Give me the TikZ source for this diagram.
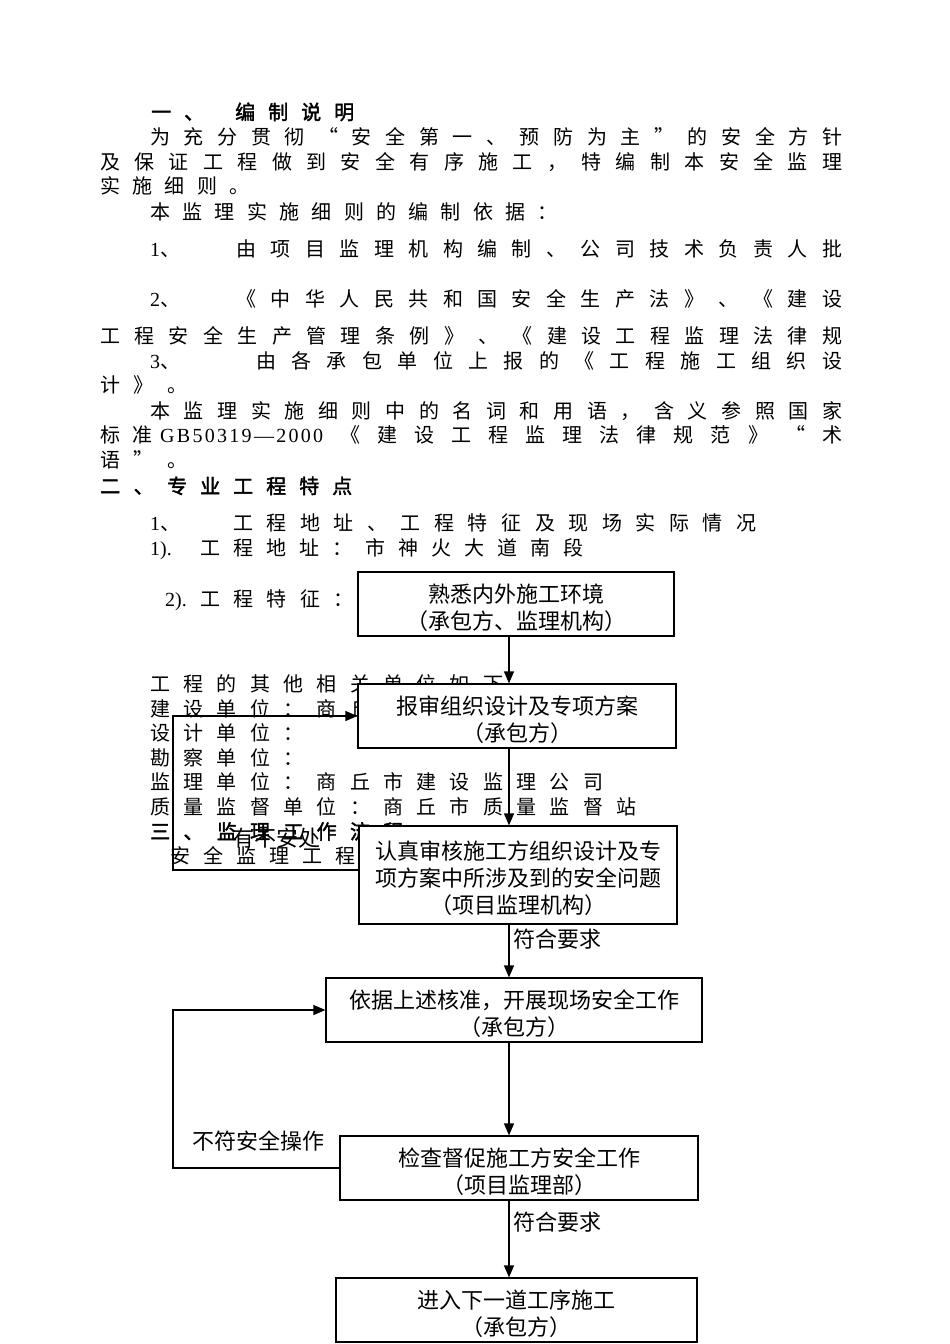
\documentclass[tikz,border=0pt]{standalone}
\usepackage{fontspec}
\setmainfont{Liberation Serif}
\newfontfamily\cjk{Noto Sans CJK SC}
\newfontfamily\cjkb[FakeBold=2]{Noto Sans CJK SC}
\usetikzlibrary{arrows.meta}
\def\hfseq#1{\hfseqa#1\relax}
\def\hfseqa#1{#1\hfseqb}
\def\hfseqb#1{\ifx\relax#1\else\hfil#1\expandafter\hfseqb\fi}
\def\pitchseq#1#2{\def\curpitch{#1}\pitchseqa#2\relax}
\def\pitchseqa#1{\ifx\relax#1\else\makebox[\curpitch pt][l]{#1}\expandafter\pitchseqa\fi}
\tikzset{
  txt/.style={inner sep=0pt, font=\cjk\fontsize{20}{24}\selectfont},
  hd/.style={inner sep=0pt, anchor=base west, font=\cjkb\fontsize{20}{24}\selectfont},
  lat/.style={inner sep=0pt, anchor=base west, font=\fontsize{20}{24}\selectfont},
  box/.style={draw, line width=1.2pt, fill=white, inner sep=0pt},
  boxtxt/.style={inner sep=0pt, align=center, font=\cjk\fontsize{22}{27}\selectfont},
  arr/.style={line width=1.2pt, -{Triangle[length=12pt,width=10pt]}},
  lab/.style={inner sep=0pt, anchor=west, font=\cjk\fontsize{22}{27}\selectfont}
}
\newcommand\jl[5]{\node[txt,anchor=base west] (#1) at (#2,#4+7.5) {\makebox[\dimexpr#3pt-#2pt\relax][s]{\hfseq{#5}}};}
\newcommand\pl[5]{\node[txt,anchor=base west] (#1) at (#2,#4+7.5) {\pitchseq{#3}{#5}};}
\begin{document}
\begin{tikzpicture}[x=1pt,y=-1pt]
\fill[white] (0,0) rectangle (950,1344);
\useasboundingbox (0,0) rectangle (950,1344);
% ---- body text ----
\node[hd] (h1a) at (151,119.5) {\pitchseq{33}{一、}};
\node[hd] (h1b) at (235,119.5) {\pitchseq{33}{编制说明}};
\jl{l2}{150}{842}{137}{为充分贯彻“安全第一、预防为主”的安全方针}
\jl{l3}{100}{842}{162}{及保证工程做到安全有序施工，特编制本安全监理}
\pl{l4}{100}{32.3}{186}{实施细则。}
\pl{l5}{150}{32.3}{212}{本监理实施细则的编制依据：}
\node[lat] (n6) at (150,256.5) {1\cjk 、};
\jl{l6}{236}{842}{249}{由项目监理机构编制、公司技术负责人批}
\node[lat] (n7) at (150,306.5) {2\cjk 、};
\jl{l7}{236}{842}{299}{《中华人民共和国安全生产法》、《建设}
\jl{l8}{100}{842}{336}{工程安全生产管理条例》、《建设工程监理法律规}
\node[lat] (n9) at (150,368.5) {3\cjk 、};
\jl{l9}{256}{842}{361}{由各承包单位上报的《工程施工组织设}
\pl{l10}{100}{33.5}{385}{计》。}
\jl{l11}{150}{842}{411}{本监理实施细则中的名词和用语，含义参照国家}
\pl{l12a}{100}{32}{435}{标准}
\node[lat] (l12g) at (160,442.5) {\makebox[163pt][s]{\hfseq{GB50319—2000}}};
\jl{l12b}{340}{842}{435}{《建设工程监理法律规范》“术}
\pl{l13}{100}{33.5}{460}{语”。}
\node[hd] (h2a) at (100,493.5) {\pitchseq{33.5}{二、}};
\node[hd] (h2b) at (167,493.5) {\pitchseq{33}{专业工程特点}};
\node[lat] (n15) at (150,530.5) {1\cjk 、};
\jl{l15}{233}{756}{523}{工程地址、工程特征及现场实际情况}
\node[lat] (n16) at (150,555.5) {1).};
\pl{l16}{200}{33}{548}{工程地址：市神火大道南段}
\node[lat] (n17) at (165,606.5) {2).};
\pl{l17}{200}{33.3}{599}{工程特征：}
\pl{l18}{150}{33.3}{684}{工程的其他相关单位如下}
\pl{l19}{150}{33.3}{708.6}{建设单位：商丘}
\pl{l20}{150}{33.3}{733}{设计单位：}
\pl{l21}{150}{33.3}{757.8}{勘察单位：}
\pl{l22}{150}{33.3}{782.4}{监理单位：商丘市建设监理公司}
\pl{l23}{150}{33.3}{807}{质量监督单位：商丘市质量监督站}
\node[hd] (h3) at (150,839) {\pitchseq{33.3}{三、监理工作流程}};
\pl{l25}{170}{33}{856}{安全监理工程}
% ---- flow chart ----
\coordinate (ax) at (509,0);
\coordinate (fb) at (173,0);
\coordinate (lp) at (173,870);
\node[box, minimum width=316pt, minimum height=64pt] (b1) at (516,604) {};
\node[boxtxt] (b1t) at (516,608) {熟悉内外施工环境\\（承包方、监理机构）};
\node[box, minimum width=318pt, minimum height=64pt] (b2) at (517,716) {};
\node[boxtxt] (b2t) at (517,720) {报审组织设计及专项方案\\（承包方）};
\node[box, minimum width=318pt, minimum height=98pt] (b3) at (518,875) {};
\node[boxtxt] (b3t) at (518,878) {认真审核施工方组织设计及专\\项方案中所涉及到的安全问题\\（项目监理机构）};
\node[box, minimum width=376pt, minimum height=64pt] (b4) at (514,1010) {};
\node[boxtxt] (b4t) at (514,1014) {依据上述核准，开展现场安全工作\\（承包方）};
\node[box, minimum width=358pt, minimum height=64pt] (b5) at (519,1168) {};
\node[boxtxt] (b5t) at (519,1172) {检查督促施工方安全工作\\（项目监理部）};
\node[box, minimum width=361pt, minimum height=64pt] (b6) at (516.5,1310) {};
\node[boxtxt] (b6t) at (516.5,1314) {进入下一道工序施工\\（承包方）};
\draw[arr] (b1.south -| ax) -- (b2.north -| ax);
\draw[arr] (b2.south -| ax) -- (b3.north -| ax);
\draw[arr] (b3.south -| ax) -- (b4.north -| ax);
\draw[arr] (b4.south -| ax) -- (b5.north -| ax);
\draw[arr] (b5.south -| ax) -- (b6.north -| ax);
\draw[arr] (b5.west) -- (b5.west -| fb) -- (b4.west -| fb) -- (b4.west);
\draw[arr] (lp -| b3.west) -- (lp) -- (lp |- b2.west) -- (b2.west);
\node[lab] (q1) at (513,939) {符合要求};
\node[lab] (q2) at (513,1222) {符合要求};
\node[lab] (q3) at (192,1141) {不符安全操作};
\node[lab, anchor=center] (q4) at (276,838) {有不安处};
\end{tikzpicture}
\end{document}
